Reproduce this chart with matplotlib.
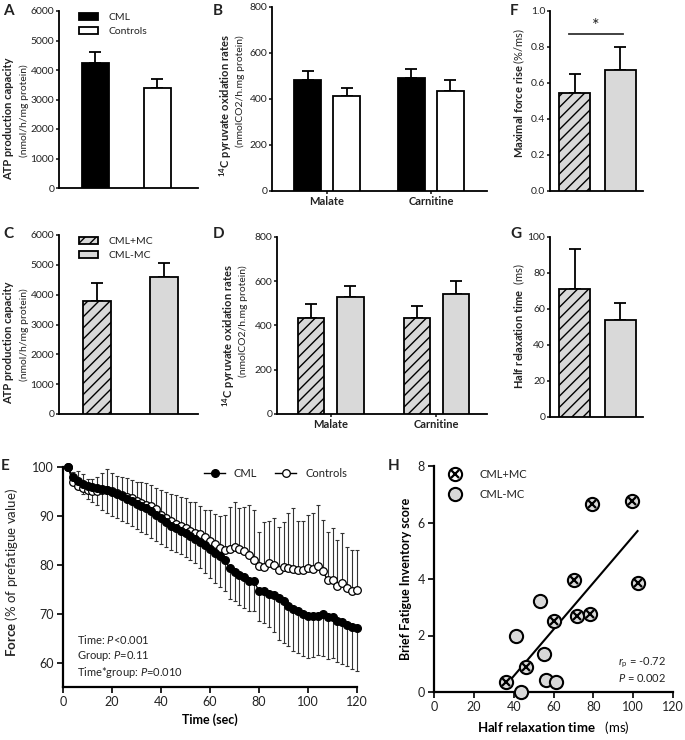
import numpy as np
import matplotlib
matplotlib.use("Agg")
import matplotlib.pyplot as plt
from matplotlib.lines import Line2D

plt.rcParams['font.family'] = 'Lato'
plt.rcParams['mathtext.fontset'] = 'custom'
plt.rcParams['mathtext.rm'] = 'Lato'
plt.rcParams['mathtext.bf'] = 'Lato:bold'
plt.rcParams['mathtext.it'] = 'Lato:italic'
plt.rcParams['hatch.linewidth'] = 1.0
plt.rcParams['text.color'] = '#222222'
plt.rcParams['xtick.color'] = '#222222'
plt.rcParams['ytick.color'] = '#222222'

# ---- data ----
group_labels = ["CML", "Controls"]
mc_labels = ["CML+MC", "CML-MC"]
substrates = ["Malate", "Carnitine"]

atp_group = [4250, 3380]
atp_group_err = [370, 325]
atp_mc = [3800, 4580]
atp_mc_err = [600, 490]

pyr_cml = [483, 490]
pyr_cml_err = [39, 41]
pyr_ctrl = [413, 435]
pyr_ctrl_err = [36, 46]
pyr_mc_pos = [435, 432]
pyr_mc_pos_err = [61, 56]
pyr_mc_neg = [529, 544]
pyr_mc_neg_err = [49, 58]

force_rise = [0.545, 0.673]
force_rise_err = [0.104, 0.128]
half_relax = [71.3, 54.1]
half_relax_err = [22.0, 9.1]

time_sec = [2, 4, 6, 8, 10, 12, 14, 16, 18, 20, 22, 24, 26, 28, 30, 32, 34, 36, 38, 40,
            42, 44, 46, 48, 50, 52, 54, 56, 58, 60, 62, 64, 66, 68, 70, 72, 74, 76, 78, 80,
            82, 84, 86, 88, 90, 92, 94, 96, 98, 100, 102, 104, 106, 108, 110, 112, 114, 116, 118, 120]
force_cml = [100.0, 98.0, 97.2, 96.6, 96.2, 96.0, 95.8, 95.5, 95.3, 94.9,
             94.5, 94.0, 93.5, 93.0, 92.5, 92.0, 91.6, 91.0, 90.2, 89.5,
             88.7, 88.0, 87.5, 87.0, 86.4, 85.9, 85.3, 84.7, 84.0, 83.2,
             82.4, 81.7, 81.0, 79.3, 78.5, 78.0, 77.6, 76.6, 76.6, 74.6,
             74.6, 74.0, 73.8, 73.2, 72.5, 71.6, 70.9, 70.5, 70.0, 69.6,
             69.5, 69.6, 70.0, 69.3, 69.3, 68.6, 68.2, 67.7, 67.3, 67.0]
force_cml_sd = [0, 1.5, 1.8, 2.2, 2.7, 3.2, 3.6, 4.2, 4.8, 5.0,
                5.0, 5.0, 5.0, 5.1, 5.2, 5.3, 5.4, 5.5, 5.4, 5.2,
                5.0, 4.9, 4.9, 4.8, 4.8, 4.9, 5.0, 5.4, 5.7, 5.9,
                6.1, 6.3, 6.4, 6.2, 6.0, 6.3, 6.5, 6.1, 6.1, 6.2,
                6.5, 6.8, 7.5, 8.6, 8.5, 8.2, 8.5, 8.6, 8.6, 8.6,
                8.3, 8.1, 8.6, 8.5, 8.3, 8.4, 8.4, 8.5, 8.6, 8.8]
force_ctrl = [100.0, 97.0, 96.2, 95.8, 95.3, 95.0, 95.0, 95.3, 95.3, 95.0,
              94.6, 94.2, 93.9, 93.6, 93.0, 92.6, 92.3, 92.0, 91.4, 90.2,
              89.6, 89.0, 88.3, 87.9, 87.5, 86.9, 86.6, 86.2, 85.6, 84.9,
              84.2, 83.5, 83.1, 83.3, 83.6, 83.2, 82.8, 82.0, 80.9, 79.7,
              79.6, 80.3, 79.9, 79.0, 79.6, 79.4, 79.2, 79.0, 79.0, 79.4,
              79.2, 79.7, 78.7, 76.9, 76.9, 75.6, 76.3, 75.2, 74.6, 74.9]
force_ctrl_sd = [0, 2.0, 3.0, 2.8, 2.3, 2.6, 3.0, 3.5, 4.3, 3.8,
                 3.5, 3.8, 3.9, 3.8, 4.0, 4.3, 4.5, 4.4, 4.4, 5.0,
                 5.2, 5.5, 6.0, 5.9, 6.1, 6.0, 6.2, 5.8, 5.6, 6.3,
                 6.2, 6.5, 7.0, 8.5, 9.3, 8.5, 9.0, 10.3, 10.4, 7.1,
                 9.2, 8.6, 9.6, 8.8, 9.2, 11.1, 12.4, 10.0, 10.0, 10.8,
                 11.3, 12.5, 10.5, 9.9, 10.6, 9.5, 10.2, 8.5, 8.5, 8.2]

relax_mc_pos = [36.3, 46.3, 60.3, 70.3, 71.7, 78.3, 79.5, 99.2, 102.2]
bfi_mc_pos = [0.34, 0.88, 2.53, 3.97, 2.70, 2.77, 6.64, 6.77, 3.85]
relax_mc_neg = [41.3, 43.7, 53.3, 55.3, 56.3, 61.3]
bfi_mc_neg = [1.99, 0.0, 3.22, 1.33, 0.44, 0.34]

GREY = '#d9d9d9'
STYLE = {
    "CML": dict(facecolor='black'),
    "Controls": dict(facecolor='white'),
    "CML+MC": dict(facecolor=GREY, hatch='///'),
    "CML-MC": dict(facecolor=GREY),
}

W, H = 685, 740
fig = plt.figure(figsize=(W / 100, H / 100), dpi=100)


def box(l, t, r, b):
    return [l / W, 1 - b / H, (r - l) / W, (b - t) / H]


def style_axes(ax, lw=1.3, size=7.5):
    for s in ['top', 'right']:
        ax.spines[s].set_visible(False)
    for s in ['left', 'bottom']:
        ax.spines[s].set_linewidth(lw)
    ax.tick_params(direction='out', length=2.5, width=1.2, labelsize=size, pad=1)


def bars(ax, x, h, err, label, width):
    ax.bar(x, h, width, edgecolor='black', linewidth=1.3, zorder=3, label=label, **STYLE[label])
    ax.errorbar(x, h, yerr=[np.zeros(len(h)), err], fmt='none', ecolor='black',
                elinewidth=1.3, capsize=4.5, capthick=1.3, zorder=2)


# ---- A ----
axA = fig.add_axes(box(59, 11, 198, 188))
style_axes(axA)
for i, lab in enumerate(group_labels):
    bars(axA, [i + 1], [atp_group[i]], [atp_group_err[i]], lab, 0.43)
axA.set_xlim(0.42, 2.65)
axA.set_ylim(0, 6000)
axA.set_yticks([0, 1000, 2000, 3000, 4000, 5000, 6000])
axA.set_xticks([])
axA.legend(loc='upper left', bbox_to_anchor=(0.08, 1.04), frameon=False, fontsize=7.5,
           handlelength=1.8, handleheight=0.65, handletextpad=1.0, labelspacing=0.45)

# ---- C ----
axC = fig.add_axes(box(59, 235, 198, 414))
style_axes(axC)
for i, lab in enumerate(mc_labels):
    bars(axC, [i + 1], [atp_mc[i]], [atp_mc_err[i]], lab, 0.42)
axC.set_xlim(0.43, 2.51)
axC.set_ylim(0, 6000)
axC.set_yticks([0, 1000, 2000, 3000, 4000, 5000, 6000])
axC.set_xticks([])
axC.legend(loc='upper left', bbox_to_anchor=(0.08, 1.04), frameon=False, fontsize=7.5,
           handlelength=1.8, handleheight=0.65, handletextpad=1.0, labelspacing=0.45)

# ---- B ----
axB = fig.add_axes(box(272, 7, 487, 191))
style_axes(axB)
xs = np.arange(len(substrates))
bars(axB, xs - 0.1875, pyr_cml, pyr_cml_err, "CML", 0.26)
bars(axB, xs + 0.1875, pyr_ctrl, pyr_ctrl_err, "Controls", 0.26)
axB.set_xlim(-0.53, 1.54)
axB.set_ylim(0, 800)
axB.set_yticks([0, 200, 400, 600, 800])
axB.set_xticks(xs)
axB.set_xticklabels(substrates, fontweight='bold', fontsize=8)

# ---- D ----
axD = fig.add_axes(box(277, 237, 487, 414))
style_axes(axD)
bars(axD, xs - 0.185, pyr_mc_pos, pyr_mc_pos_err, "CML+MC", 0.25)
bars(axD, xs + 0.185, pyr_mc_neg, pyr_mc_neg_err, "CML-MC", 0.25)
axD.set_xlim(-0.51, 1.48)
axD.set_ylim(0, 800)
axD.set_yticks([0, 200, 400, 600, 800])
axD.set_xticks(xs)
axD.set_xticklabels(substrates, fontweight='bold', fontsize=8)

# ---- F ----
axF = fig.add_axes(box(550, 11, 643, 191))
style_axes(axF)
for i, lab in enumerate(mc_labels):
    bars(axF, [i + 1], [force_rise[i]], [force_rise_err[i]], lab, 0.68)
axF.set_xlim(0.46, 2.5)
axF.set_ylim(0, 1.0)
axF.set_yticks([0.0, 0.2, 0.4, 0.6, 0.8, 1.0])
axF.set_yticklabels(['0.0', '0.2', '0.4', '0.6', '0.8', '1.0'])
axF.set_xticks([])
axF.plot([0.88, 2.06], [0.87, 0.87], color='#333333', lw=1.3)
axF.text(1.47, 0.87, '*', ha='center', va='bottom', fontsize=13)

# ---- G ----
axG = fig.add_axes(box(550, 237, 643, 417))
style_axes(axG)
for i, lab in enumerate(mc_labels):
    bars(axG, [i + 1], [half_relax[i]], [half_relax_err[i]], lab, 0.68)
axG.set_xlim(0.46, 2.5)
axG.set_ylim(0, 100)
axG.set_yticks([0, 20, 40, 60, 80, 100])
axG.set_xticks([])

# ---- E ----
axE = fig.add_axes(box(63, 467, 357, 687))
style_axes(axE, lw=1.6, size=9)
zeros = np.zeros(len(time_sec))
axE.errorbar(time_sec, force_cml, yerr=[force_cml_sd, zeros], fmt='none', ecolor='#333333',
             elinewidth=0.8, capsize=1.6, capthick=0.8, zorder=2, clip_on=False)
axE.errorbar(time_sec, force_ctrl, yerr=[zeros, force_ctrl_sd], fmt='none', ecolor='#333333',
             elinewidth=0.8, capsize=1.6, capthick=0.8, zorder=2, clip_on=False)
l_cml, = axE.plot(time_sec, force_cml, '-o', color='black', lw=1, ms=5.5, mfc='black',
                  mec='black', zorder=4, clip_on=False)
l_ctrl, = axE.plot(time_sec, force_ctrl, '-o', color='black', lw=1, ms=5.5, mfc='white',
                   mec='black', mew=0.9, zorder=3, clip_on=False)
axE.set_xlim(0, 120)
axE.set_ylim(55, 100)
axE.set_xticks([0, 20, 40, 60, 80, 100, 120])
axE.set_yticks([60, 70, 80, 90, 100])
axE.tick_params(length=4.5, width=1.4, pad=2)
axE.legend([l_cml, l_ctrl], group_labels, loc='upper right', bbox_to_anchor=(1.0, 1.04),
           ncol=2, frameon=False, fontsize=8, handlelength=1.9, columnspacing=1.6)
axE.text(0.048, 0.03, "Time: $P$<0.001\nGroup: $P$=0.11\nTime*group: $P$=0.010",
         transform=axE.transAxes, fontsize=8, va='bottom', ha='left', linespacing=1.25)
axE.set_xlabel('Time (sec)', fontweight='bold', fontsize=9)
fig.text(12 / W, 1 - 573 / H, r'$\mathbf{Force}$ (% of prefatigue value)', rotation=90,
         ha='center', va='center', fontsize=9.5)

# ---- H ----
axH = fig.add_axes(box(434, 466, 673, 692))
style_axes(axH, lw=1.6, size=9)
x_all = np.array(relax_mc_pos + relax_mc_neg)
y_all = np.array(bfi_mc_pos + bfi_mc_neg)
k, b = np.polyfit(x_all, y_all, 1)
xl = np.array([x_all.min(), x_all.max()])
axH.plot(xl, k * xl + b, color='black', lw=1.5, zorder=2)
axH.plot(relax_mc_pos, bfi_mc_pos, 'o', ms=9.5, mfc=GREY, mec='black', mew=1.5,
         zorder=3, clip_on=False)
axH.plot(relax_mc_pos, bfi_mc_pos, 'x', ms=6, mec='black', mew=1.6, zorder=4, clip_on=False)
axH.plot(relax_mc_neg, bfi_mc_neg, 'o', ms=9.5, mfc=GREY, mec='black', mew=1.5,
         zorder=3, clip_on=False)
axH.set_xlim(0, 120)
axH.set_ylim(0, 8)
axH.set_xticks([0, 20, 40, 60, 80, 100, 120])
axH.set_yticks([0, 2, 4, 6, 8])
axH.tick_params(length=4.5, width=1.4, pad=2)
h_pos = (Line2D([], [], marker='o', ms=9.5, mfc='white', mec='black', mew=1.5, ls='none'),
         Line2D([], [], marker='x', ms=6, mec='black', mew=1.6, ls='none'))
h_neg = Line2D([], [], marker='o', ms=9.5, mfc=GREY, mec='black', mew=1.5, ls='none')
axH.legend([h_pos, h_neg], mc_labels, loc='upper left', bbox_to_anchor=(0.02, 1.03),
           frameon=False, fontsize=8, handlelength=1.2, handletextpad=1.6, labelspacing=0.8)
axH.text(0.97, 0.13, r'$r_\mathrm{p}$ = -0.72', transform=axH.transAxes, ha='right',
         va='center', fontsize=8)
axH.text(0.97, 0.06, r'$P$ = 0.002', transform=axH.transAxes, ha='right', va='center',
         fontsize=8)
axH.set_xlabel(r'$\mathbf{Half\ relaxation\ time}$   (ms)', fontsize=9.5)
axH.set_ylabel('Brief Fatigue Inventory score', fontweight='bold', fontsize=9)

# ---- y labels of the bar panels ----
for yc in (0, 224):
    fig.text(9 / W, 1 - (119 + yc) / H, 'ATP production capacity', rotation=90,
             ha='center', va='center', fontsize=8, fontweight='bold')
    fig.text(24 / W, 1 - (111 + yc) / H, '(nmol/h/mg protein)', rotation=90,
             ha='center', va='center', fontsize=7.5)
for yc, xc in ((0, 0), (230, 3)):
    fig.text((226 + xc) / W, 1 - (106 + yc) / H,
             r'$\mathbf{^{14}C\ pyruvate\ oxidation\ rates}$', rotation=90,
             ha='center', va='center', fontsize=8)
    fig.text((240 + xc) / W, 1 - (91 + yc) / H, '(nmolCO2/h.mg protein)', rotation=90,
             ha='center', va='center', fontsize=7.5)
fig.text(519 / W, 1 - 93 / H, r'$\mathbf{Maximal\ force\ rise}$ (%/ms)', rotation=90,
         ha='center', va='center', fontsize=8)
fig.text(519 / W, 1 - 326 / H, r'$\mathbf{Half\ relaxation\ time}$  (ms)', rotation=90,
         ha='center', va='center', fontsize=8)

# ---- panel letters ----
for letter, (px, py) in {'A': (3, 4), 'B': (213, 4), 'F': (510, 4), 'C': (3, 227),
                         'D': (213, 227), 'G': (510, 227), 'E': (1, 459), 'H': (388, 459)}.items():
    fig.text(px / W, 1 - py / H, letter, ha='left', va='top', fontsize=11, fontweight='bold')

fig.savefig('out.png', dpi=100)
